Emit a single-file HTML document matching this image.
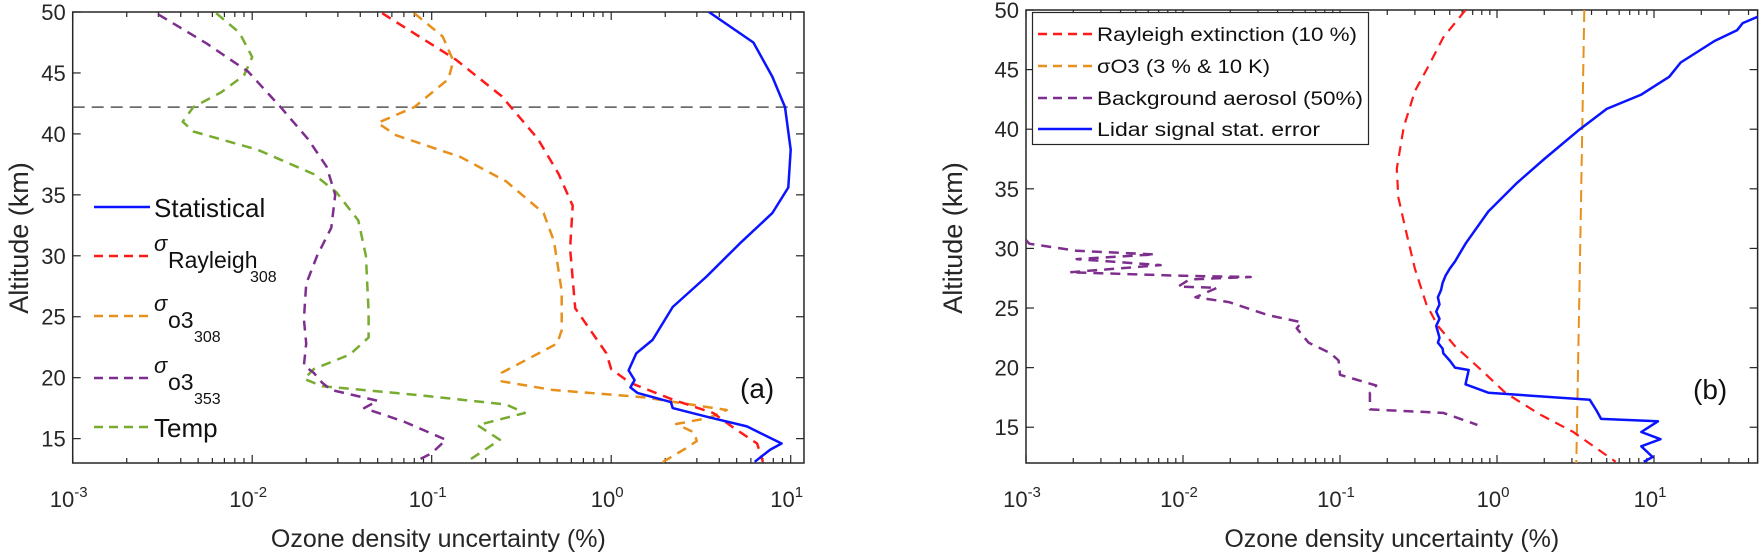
<!DOCTYPE html>
<html><head><meta charset="utf-8"><style>
body{margin:0;background:#fff}
svg{display:block;font-family:"Liberation Sans",Arial,sans-serif}
</style></head><body>
<svg id="fig" width="1761" height="557" viewBox="0 0 1761 557" xmlns="http://www.w3.org/2000/svg"></svg>
<script>
// ---------- Panel (a) data: [altitude km, uncertainty %] ----------
const aStatAlt = [50,47.5,44.7,42.2,38.7,35.6,33.5,31.0,28.3,25.8,23.1,22.0,20.6,19.8,19.2,18.75,18.0,17.5,16.8,16.0,14.6,14.1,13.1];
const aStatVal = [3.5,6.2,7.9,9.3,10,9.7,7.9,5.2,3.4,2.2,1.7,1.38,1.25,1.35,1.28,1.4,2.15,2.2,3.4,5.7,8.9,7.7,6.3];
const aRayAlt = [49.9,46.1,43.1,39.6,36.7,34.1,30.6,25.7,22.0,20.7,19.6,18.2,17.1,15.9,14.6,13.1];
const aRayVal = [0.053,0.136,0.245,0.39,0.51,0.61,0.59,0.63,0.94,1.0,1.27,2.2,3.7,4.8,6.5,7.0];
const aO308Alt = [49.9,48,46,44.5,42.2,40.9,39.9,38.1,36.1,33.5,31.2,27.1,23.9,22.8,21.6,20.4,19.7,19.0,18.4,17.35,16.7,16.2,15.5,14.8,14.2,13.0];
const aO308Val = [0.08,0.115,0.132,0.124,0.08,0.05,0.063,0.145,0.26,0.42,0.48,0.53,0.53,0.5,0.35,0.245,0.245,0.47,1.5,4.4,3.5,2.3,2.9,3.0,2.6,1.9];
const aO353Alt = [49.8,47.4,45.1,42.2,39.6,37.3,35.0,32.3,30.0,27.7,24.8,22.8,21.0,20.4,19.6,19.0,18.1,17.5,16.4,14.9,13.8,13.2];
const aO353Val = [0.003,0.0056,0.0095,0.0144,0.0204,0.026,0.029,0.0276,0.023,0.020,0.0194,0.020,0.0194,0.022,0.0245,0.0275,0.05,0.042,0.07,0.12,0.1,0.083];
const aTempAlt = [49.9,48.3,46.3,44.8,43.4,42.2,41.0,40.2,38.7,36.7,35.2,32.9,30.0,25.4,23.3,21.9,20.7,19.9,19.3,18.6,17.8,17.1,16.1,14.9,13.0];
const aTempVal = [0.0063,0.0085,0.01,0.009,0.0067,0.0047,0.0041,0.0047,0.0107,0.022,0.0295,0.039,0.043,0.0445,0.0445,0.035,0.022,0.0195,0.0245,0.08,0.26,0.33,0.18,0.24,0.153];
const aRefAlt = 42.2;
// ---------- Panel (b) data ----------
const bRayAlt = [50,47.7,45.4,43.2,40.2,36.7,34.3,31.3,28.3,25.3,23.5,21.8,19.7,17.9,16.1,14.6,12.1];
const bRayVal = [0.63,0.455,0.37,0.30,0.255,0.23,0.235,0.265,0.30,0.355,0.42,0.54,0.81,1.13,1.86,3.06,5.7];
const bO3Alt = [50,31,12];
const bO3Val = [3.6,3.4,3.2];
const bAerAlt = [30.7,30.4,29.8,29.5,29.1,28.6,28.0,27.7,27.6,27.4,26.8,26.7,25.9,25.5,24.4,23.8,23.3,22.1,21.2,20.6,19.4,18.5,17.9,16.5,16.2,15.2];
const bAerVal = [0.001,0.00105,0.0021,0.0066,0.0021,0.0072,0.0019,0.01,0.027,0.011,0.0093,0.0165,0.012,0.0196,0.035,0.057,0.053,0.063,0.087,0.098,0.1,0.17,0.155,0.155,0.455,0.75];
const bStatAlt = [49.5,48.9,48.3,47.4,45.6,44.4,42.9,41.7,39.9,37.5,35.5,33.1,30.4,28.9,28.3,27.7,27.1,26.5,25.9,25.3,24.7,24.1,23.5,23.0,22.5,22.1,21.6,21.2,20.6,20.0,19.8,18.6,17.9,17.3,16.4,15.7,15.5,14.6,14.0,13.4,12.5,12.1];
const bStatVal = [47,36.7,33.8,24.3,14.8,12.5,8.3,5.0,3.3,2.0,1.34,0.88,0.63,0.54,0.50,0.47,0.45,0.44,0.42,0.43,0.41,0.43,0.41,0.42,0.43,0.42,0.45,0.455,0.50,0.54,0.66,0.63,0.88,3.9,4.3,4.6,10.6,8.3,11,8.3,9.8,8.6];

const xTickExp = [-3,-2,-1,0,1];
const aYTicks = [15,20,25,30,35,40,45,50];
const bYTicks = [15,20,25,30,35,40,45,50];

const NS='http://www.w3.org/2000/svg';
const svg=document.getElementById('fig');
function mk(tag,attrs,parent){const e=document.createElementNS(NS,tag);for(const k in attrs)e.setAttribute(k,attrs[k]);(parent||svg).appendChild(e);return e;}

function panel(P){
  const g=mk('g',{});
  
  
  const X=v=>P.x0+(Math.log10(v)-P.lmin)*P.dec;
  const Y=a=>P.y1-(a-P.amin)*(P.y1-P.y0)/(P.amax-P.amin);
  P.X=X;P.Y=Y;
  const x1=P.x0+(P.lmax-P.lmin)*P.dec;P.x1=x1;
  const ax=mk('rect',{x:P.x0,y:P.y0,width:x1-P.x0,height:P.y1-P.y0,fill:'none',stroke:'#262626','stroke-width':1.5},g);
  
  
  for(let e=Math.floor(P.lmin);e<=Math.ceil(P.lmax);e++){
    for(let m=1;m<10;m++){
      const l=e+Math.log10(m); if(l<P.lmin-1e-6||l>P.lmax+1e-6) continue;
      const xx=P.x0+(l-P.lmin)*P.dec; const len=m===1?8:5;
      mk('line',{x1:xx,x2:xx,y1:P.y1,y2:P.y1-len,stroke:'#262626','stroke-width':1.2},g);
      mk('line',{x1:xx,x2:xx,y1:P.y0,y2:P.y0+len,stroke:'#262626','stroke-width':1.2},g);
    }
  }
  xTickExp.forEach(e=>{
    const xx=P.x0+(e-P.lmin)*P.dec;
    const t=mk('text',{x:xx-4,y:507,'text-anchor':'middle','font-size':22,fill:'#262626'},g);
    
    
    t.textContent='10';
    const s=mk('tspan',{dy:-10,'font-size':15},t);s.textContent=String(e);
  });
  P.yt.forEach(a=>{
    const yy=Y(a);
    mk('line',{x1:P.x0,x2:P.x0+8,y1:yy,y2:yy,stroke:'#262626','stroke-width':1.2},g);
    mk('line',{x1:x1,x2:x1-8,y1:yy,y2:yy,stroke:'#262626','stroke-width':1.2},g);
    const t=mk('text',{x:P.x0-7,y:yy+8,'text-anchor':'end','font-size':22,fill:'#262626'},g);
    
    
    t.textContent=a;
  });
  const xt=mk('text',{x:(P.x0+x1)/2,y:547,'text-anchor':'middle','font-size':25,fill:'#262626'},g);
  
  
  xt.textContent='Ozone density uncertainty (%)';
  const yt=mk('text',{x:0,y:0,'text-anchor':'middle','font-size':27,fill:'#262626',transform:`translate(${P.ytx},238) rotate(-90)`},g);
  
  
  yt.textContent='Altitude (km)';
  const clip=mk('clipPath',{id:'clip'+P.name},g);
  mk('rect',{x:P.x0,y:P.y0,width:x1-P.x0,height:P.y1-P.y0},clip);
  P.g=mk('g',{'clip-path':`url(#clip${P.name})`},g);
  return P;
}
function series(P,alt,val,color,dash,name,w){
  let d='';alt.forEach((a,i)=>{d+=(i?'L':'M')+P.X(val[i]).toFixed(1)+','+P.Y(a).toFixed(1);});
  const p=mk('path',{d:d,fill:'none',stroke:color,'stroke-width':w||2.5,'stroke-linejoin':'round','stroke-dasharray':dash||'none'},P.g);
  
  
}
const RED='#ff1a1a',ORG='#e8901c',PUR='#7e2f8e',GRN='#77ac30',BLU='#0a14ff',DASH='10 7';

const A=panel({name:'panel-a',x0:72.7,dec:179.5,lmin:-3,lmax:1.074,y0:12,y1:463,amin:13,amax:50,yt:aYTicks,ytx:28});
const ref=mk('line',{x1:A.x0,x2:A.x1,y1:A.Y(aRefAlt),y2:A.Y(aRefAlt),stroke:'#555','stroke-width':1.5,'stroke-dasharray':'12 7'},A.g);


series(A,aTempAlt,aTempVal,GRN,DASH,'temp-line');
series(A,aO353Alt,aO353Val,PUR,DASH,'sigma-o3-353-line');
series(A,aO308Alt,aO308Val,ORG,DASH,'sigma-o3-308-line');
series(A,aRayAlt,aRayVal,RED,DASH,'sigma-rayleigh-308-line');
series(A,aStatAlt,aStatVal,BLU,null,'statistical-line');

const B=panel({name:'panel-b',x0:1026,dec:157,lmin:-3,lmax:1.66,y0:10,y1:463,amin:12,amax:50,yt:bYTicks,ytx:962});
series(B,bAerAlt,bAerVal,PUR,DASH,'background-aerosol-line');
series(B,bO3Alt,bO3Val,ORG,'12 6','sigma-o3-line',2);
series(B,bRayAlt,bRayVal,RED,DASH,'rayleigh-extinction-line',2.2);
series(B,bStatAlt,bStatVal,BLU,null,'lidar-stat-error-line');

const legA=[['Statistical',BLU,null,207],['σ',RED,DASH,256,'Rayleigh','308'],['σ',ORG,DASH,316,'o3','308'],['σ',PUR,DASH,378,'o3','353'],['Temp',GRN,DASH,427]];
const lgA=mk('g',{});


legA.forEach(r=>{
  const e=mk('g',{},lgA);
  
  
  mk('line',{x1:94,x2:150,y1:r[3],y2:r[3],stroke:r[1],'stroke-width':2.5,'stroke-dasharray':r[2]?'9 6':'none'},e);
  if(r.length===4){const t=mk('text',{x:154,y:r[3]+10,'font-size':26,fill:'#111'},e);t.textContent=r[0];}
  else{
    const t=mk('text',{x:154,y:r[3]-5,'font-size':22,'font-style':'italic',fill:'#111'},e);t.textContent='σ';
    const s=mk('text',{x:168,y:r[3]+12,'font-size':23,fill:'#111'},e);s.textContent=r[4];
    const s2=mk('text',{x:168+(r[4].length>3?82:26),y:r[3]+26,'font-size':16,fill:'#111'},e);s2.textContent=r[5];
  }
});
const la=mk('text',{x:740,y:398,'font-size':28,fill:'#111'});la.textContent='(a)';



const lgB=mk('g',{});


mk('rect',{x:1032.5,y:12.5,width:336,height:132,fill:'#fff',stroke:'#262626','stroke-width':1.2},lgB);
const legB=[['Rayleigh extinction (10 %)',RED,true,34,260],['σO3 (3 % & 10 K)',ORG,true,66,173],['Background aerosol (50%)',PUR,true,98,266],['Lidar signal stat. error',BLU,false,129,223]];
legB.forEach(r=>{
  const e=mk('g',{},lgB);
  
  
  mk('line',{x1:1038,x2:1092,y1:r[3],y2:r[3],stroke:r[1],'stroke-width':2.5,'stroke-dasharray':r[2]?'9 6':'none'},e);
  const t=mk('text',{x:1097,y:r[3]+7,'font-size':19,fill:'#111',textLength:r[4],lengthAdjust:'spacingAndGlyphs'},e);t.textContent=r[0];
});
const lb=mk('text',{x:1693,y:399,'font-size':28,fill:'#111'});lb.textContent='(b)';


</script>
</body></html>
